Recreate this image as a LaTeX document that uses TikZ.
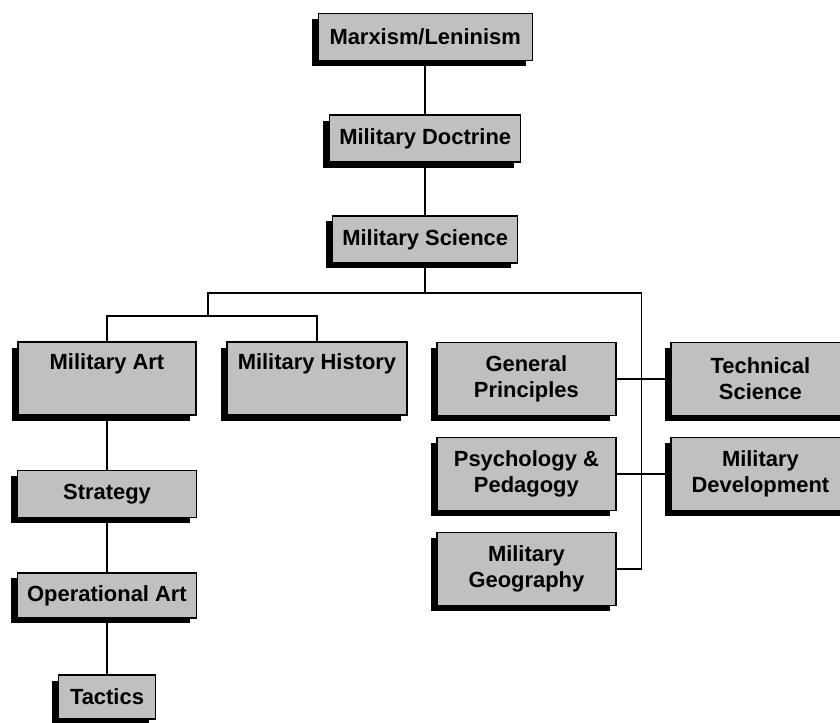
\documentclass[tikz,border=0pt]{standalone}
\usepackage{fontspec}
\setmainfont{Liberation Sans}
\usepackage{tikz}
\usetikzlibrary{shadows}
\usepackage{xcolor}
\definecolor{boxgray}{HTML}{C0C0C0}

\tikzset{
  box/.style={draw=black, fill=boxgray, line width=0.9pt, inner sep=0pt, align=center,
    font=\fontsize{15.6}{18.7}\selectfont\bfseries,
    drop shadow={shadow xshift=-0.16cm, shadow yshift=-0.14cm, opacity=1, fill=black}},
  short/.style={box, minimum height=1.175cm},
  tall/.style={box, minimum height=1.825cm},
  link/.style={line width=1.2pt}
}

\begin{document}
\begin{tikzpicture}
  \clip (0,0) rectangle (21,18.075);
  \node[short, minimum width=5.35cm] (marx) at (10.63,17.15) {Marxism/Leninism};
  \node[short, minimum width=4.775cm] (doctrine) at (10.63,14.61) {Military Doctrine};
  \node[short, minimum width=4.625cm] (science) at (10.63,12.09) {Military Science};

  \node[tall, minimum width=4.45cm] (art) at (2.675,8.61) {Military Art\\\strut};
  \node[tall, minimum width=4.5cm] (history) at (7.925,8.61) {Military History\\\strut};
  \node[short, minimum width=4.475cm] (strategy) at (2.675,5.725) {Strategy};
  \node[short, minimum width=4.475cm, minimum height=1.125cm] (operational) at (2.675,3.19) {Operational Art};
  \node[short, minimum width=2.425cm, minimum height=1.1cm] (tactics) at (2.675,0.65) {Tactics};

  \node[tall, minimum width=4.475cm] (principles) at (13.16,8.6) {General\\Principles};
  \node[tall, minimum width=4.475cm] (psych) at (13.16,6.225) {Psychology \&\\Pedagogy};
  \node[tall, minimum width=4.475cm] (geography) at (13.16,3.85) {Military\\Geography};
  \node[tall, minimum width=4.475cm] (technical) at (19.01,8.6) {Technical\\Science};
  \node[tall, minimum width=4.475cm] (development) at (19.01,6.225) {Military\\Development};

  \coordinate (busL) at (5.2,10.75);
  \coordinate (busR) at (16.04,10.75);
  \coordinate (busA) at (5.2,10.175);

  \draw[link] (marx) -- (doctrine);
  \draw[link] (doctrine) -- (science);
  \draw[link] (science) -- (science |- busL);
  \draw[link] (busA) -- (busL) -- (busR) |- (geography);
  \draw[link] (art) |- (busA) -| (history);
  \draw[link] (art) -- (strategy);
  \draw[link] (strategy) -- (operational);
  \draw[link] (operational) -- (tactics);
  \draw[link] (principles) -- (technical);
  \draw[link] (psych) -- (development);
\end{tikzpicture}
\end{document}
